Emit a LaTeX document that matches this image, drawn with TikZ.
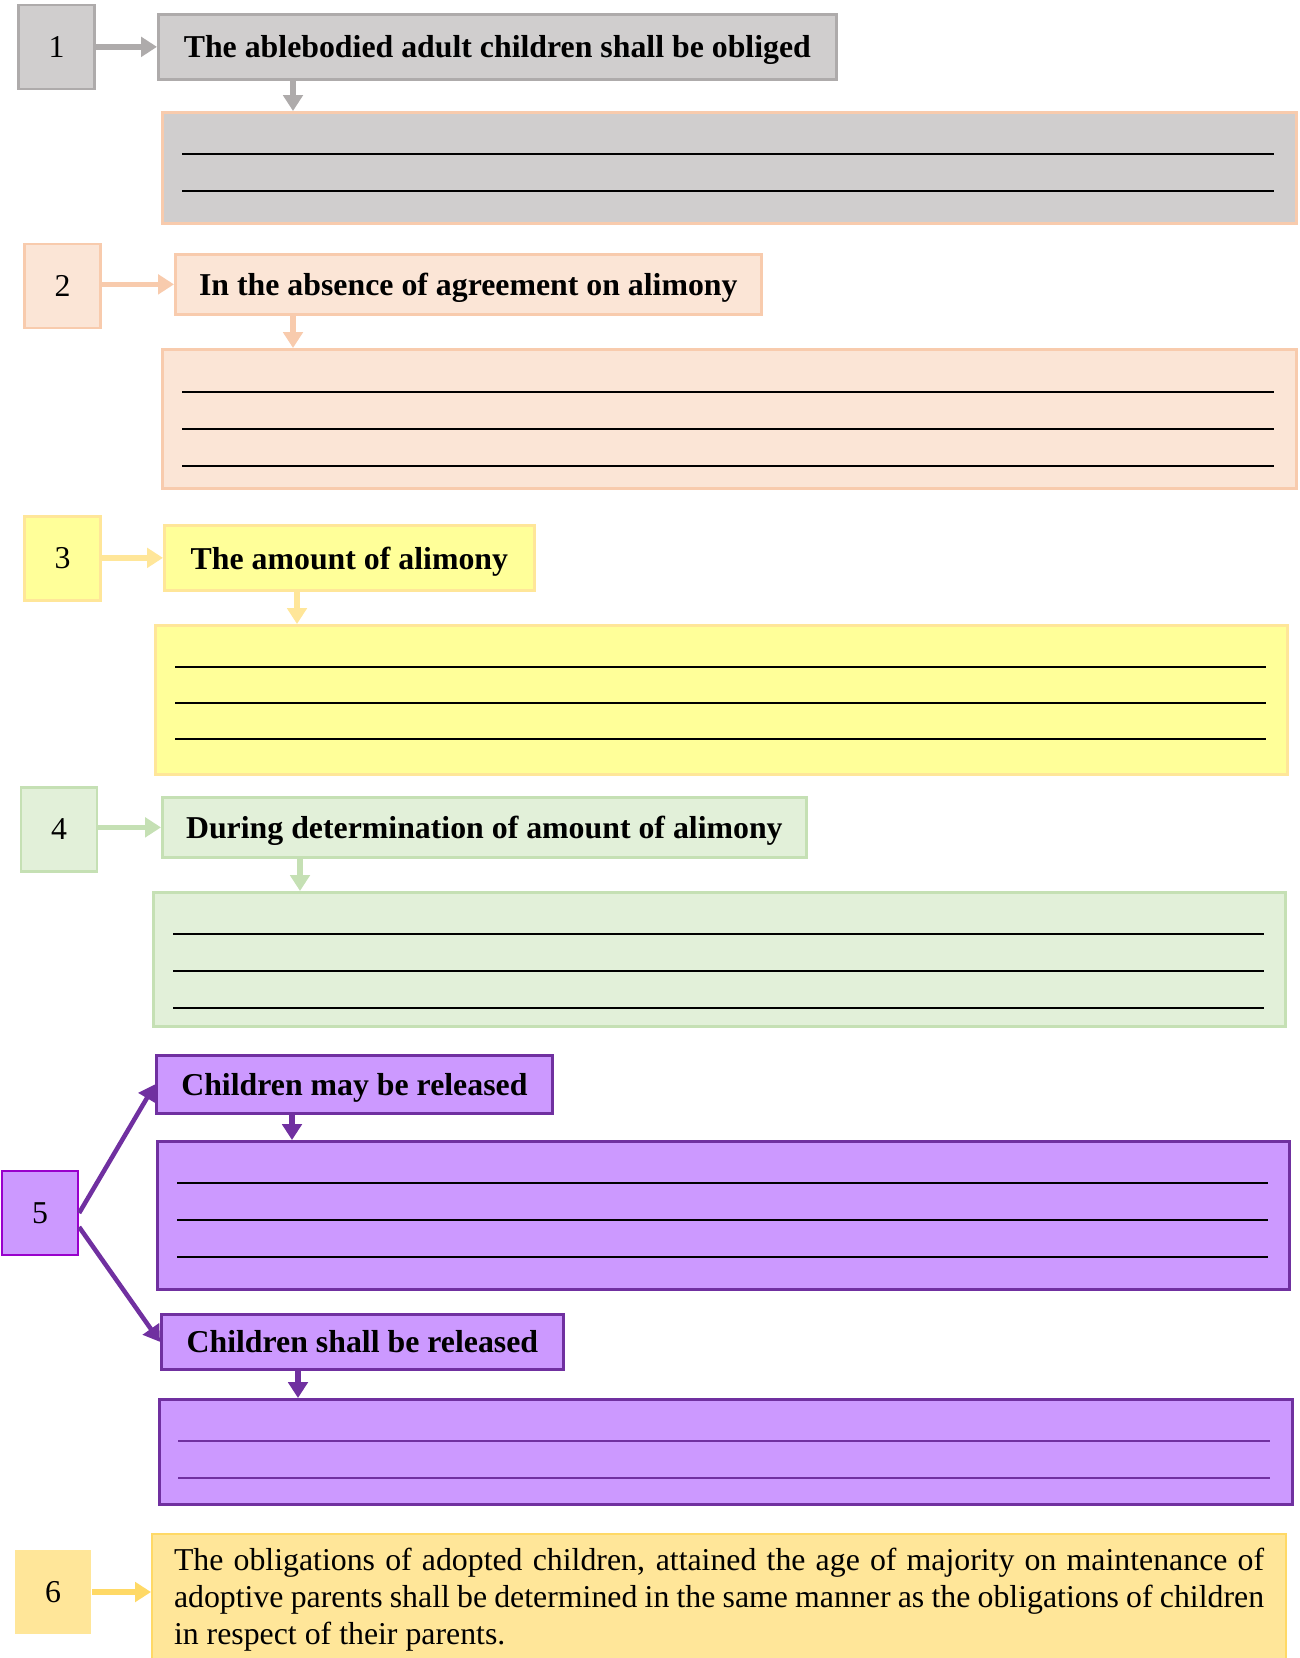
\documentclass[tikz,border=0pt]{standalone}
\usepackage{fontspec}
\setmainfont{Liberation Serif}
\usetikzlibrary{positioning,calc,arrows.meta}
\definecolor{greyfill}{HTML}{D0CECE}
\definecolor{greyline}{HTML}{AEABAB}
\definecolor{peachfill}{HTML}{FBE5D6}
\definecolor{peachline}{HTML}{F8CBAD}
\definecolor{lemonfill}{HTML}{FFFF99}
\definecolor{lemonline}{HTML}{FFE699}
\definecolor{mintfill}{HTML}{E2F0D9}
\definecolor{mintline}{HTML}{C5E0B4}
\definecolor{violetfill}{HTML}{CC99FF}
\definecolor{violetline}{HTML}{7030A0}
\definecolor{violetedge}{HTML}{9900CC}
\definecolor{goldfill}{HTML}{FFE699}
\definecolor{goldline}{HTML}{FFD966}
\newlength\pxu
\setlength\pxu{0.44pt}
\tikzset{
  numbox/.style   = {line width=1.2pt, minimum width=76\pxu, minimum height=84\pxu, inner sep=0pt, font=\fontsize{14}{16}\selectfont},
  headbox/.style  = {line width=1.2pt, anchor=north west, inner sep=0pt, text depth=0pt, font=\fontsize{14}{16}\selectfont\bfseries},
  blankbox/.style = {line width=1.2pt, anchor=north west, inner sep=0pt},
  textbox/.style  = {line width=0.9pt, anchor=north west, inner xsep=22\pxu, inner ysep=6pt, align=justify, font=\fontsize{14}{16.3}\selectfont},
  flow/.style     = {-{Triangle[length=7pt,width=8.5pt]}, line width=2.5pt},
  ruleline/.style = {line width=0.7pt},
}

\begin{document}
\begin{tikzpicture}[x=\pxu,y=-\pxu]
\path[use as bounding box] (0,0) rectangle (1299,1658);

% ---- 1: who is obliged --------------------------------------------------
\node[numbox, fill=greyfill, draw=greyline] (n1) at (56.5,47) {1};
\node[headbox, fill=greyfill, draw=greyline, minimum width=678\pxu, minimum height=65\pxu] (t1) at (157,13)
  {The ablebodied adult children shall be obliged};
\node[blankbox, fill=greyfill, draw=peachline, minimum width=1134\pxu, minimum height=111\pxu] (f1) at (161,111) {};
\coordinate (d1) at ([xshift=136\pxu]t1.south west);
\draw[flow, greyline] (n1.east |- t1.west) -- (t1.west);
\draw[flow, greyline] (d1) -- (d1 |- f1.north);
\foreach \k in {1,2}
  \draw[ruleline] ($(f1.north west)+(21,6+37*\k)$) -- ($(f1.north east)+(-24,6+37*\k)$);

% ---- 2: no agreement ----------------------------------------------------
\node[numbox, fill=peachfill, draw=peachline] (n2) at (62.5,286) {2};
\node[headbox, fill=peachfill, draw=peachline, minimum width=586\pxu, minimum height=60\pxu] (t2) at (174,253)
  {In the absence of agreement on alimony};
\node[blankbox, fill=peachfill, draw=peachline, minimum width=1134\pxu, minimum height=139\pxu] (f2) at (161,348) {};
\coordinate (d2) at ([xshift=119\pxu]t2.south west);
\draw[flow, peachline] (n2.east |- t2.west) -- (t2.west);
\draw[flow, peachline] (d2) -- (d2 |- f2.north);
\foreach \k in {1,2,3}
  \draw[ruleline] ($(f2.north west)+(21,7+37*\k)$) -- ($(f2.north east)+(-24,7+37*\k)$);

% ---- 3: amount ----------------------------------------------------------
\node[numbox, fill=lemonfill, draw=lemonline] (n3) at (62.5,558.5) {3};
\node[headbox, fill=lemonfill, draw=lemonline, minimum width=370\pxu, minimum height=65\pxu] (t3) at (163,524)
  {The amount of alimony};
\node[blankbox, fill=lemonfill, draw=lemonline, minimum width=1132\pxu, minimum height=149\pxu] (f3) at (154,624) {};
\coordinate (d3) at ([xshift=134\pxu]t3.south west);
\draw[flow, lemonline] (n3.east |- t3.west) -- (t3.west);
\draw[flow, lemonline] (d3) -- (d3 |- f3.north);
\foreach \k in {1,2,3}
  \draw[ruleline] ($(f3.north west)+(21,7+36*\k)$) -- ($(f3.north east)+(-23,7+36*\k)$);

% ---- 4: determination ---------------------------------------------------
\node[numbox, fill=mintfill, draw=mintline] (n4) at (59,829.5) {4};
\node[headbox, fill=mintfill, draw=mintline, minimum width=644\pxu, minimum height=60\pxu] (t4) at (161,796)
  {During determination of amount of alimony};
\node[blankbox, fill=mintfill, draw=mintline, minimum width=1132\pxu, minimum height=134\pxu] (f4) at (152,891) {};
\coordinate (d4) at ([xshift=139\pxu]t4.south west);
\draw[flow, mintline] (n4.east |- t4.west) -- (t4.west);
\draw[flow, mintline] (d4) -- (d4 |- f4.north);
\foreach \k in {1,2,3}
  \draw[ruleline] ($(f4.north west)+(21,6+37*\k)$) -- ($(f4.north east)+(-23,6+37*\k)$);

% ---- 5: release, may / shall --------------------------------------------
\node[numbox, fill=violetfill, draw=violetedge, line width=1pt] (n5) at (40,1213) {5};
\node[headbox, fill=violetfill, draw=violetline, minimum width=396\pxu, minimum height=58\pxu] (t5a) at (155,1054)
  {Children may be released};
\node[blankbox, fill=violetfill, draw=violetline, minimum width=1132\pxu, minimum height=148\pxu] (f5a) at (156,1140) {};
\node[headbox, fill=violetfill, draw=violetline, minimum width=402\pxu, minimum height=55\pxu] (t5b) at (160,1313)
  {Children shall be released};
\node[blankbox, fill=violetfill, draw=violetline, minimum width=1133\pxu, minimum height=105\pxu] (f5b) at (158,1398) {};
\coordinate (d5a) at ([xshift=137\pxu]t5a.south west);
\coordinate (d5b) at ([xshift=138\pxu]t5b.south west);
\draw[flow, violetline, line width=2pt] (n5.east) -- (t5a.west);
\draw[flow, violetline, line width=2pt] ([yshift=-14\pxu]n5.east) -- (t5b.west);
\draw[flow, violetline] (d5a) -- (d5a |- f5a.north);
\draw[flow, violetline] (d5b) -- (d5b |- f5b.north);
\foreach \k in {1,2,3}
  \draw[ruleline] ($(f5a.north west)+(21,6+37*\k)$) -- ($(f5a.north east)+(-23,6+37*\k)$);
\foreach \k in {1,2}
  \draw[ruleline, violetline] ($(f5b.north west)+(20,6+37*\k)$) -- ($(f5b.north east)+(-24,6+37*\k)$);

% ---- 6: adopted children ------------------------------------------------
\node[numbox, fill=goldfill] (n6) at (53,1592) {6};
\node[textbox, fill=goldfill, draw=goldline, text width=1090\pxu] (b6) at (151,1533)
  {The obligations of adopted children, attained the age of majority on maintenance of
   adoptive parents shall be determined in the same manner as the obligations of children
   in respect of their parents.};
\draw[flow, goldline] (n6.east) -- (n6.east -| b6.west);

\end{tikzpicture}
\end{document}
